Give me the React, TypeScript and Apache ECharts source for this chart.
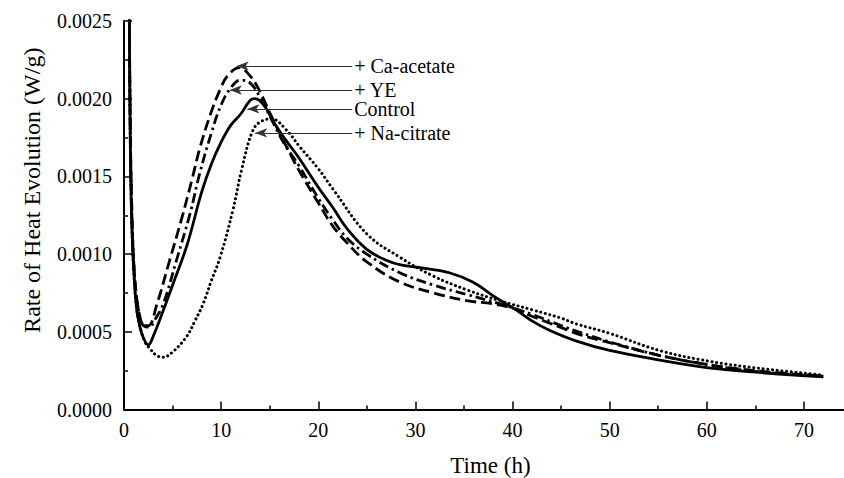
import React, { useEffect, useRef } from "react";
import * as echarts from "echarts";

// ---- data ----
const controlT = [0.45, 0.55, 0.65, 0.8, 1.0, 1.3, 1.65, 2.0, 2.5, 3.0, 4.0, 5.0, 6.5, 8.0, 9.0, 10.0, 11.0, 12.0, 13.0, 13.5, 14.5, 15.5, 16.7, 18.0, 20.0, 21.5, 23.0, 25.0, 27.0, 28.5, 30.8, 33.5, 35.9, 38.3, 40.4, 42.0, 43.8, 46.6, 50, 55, 60, 65, 72];
const controlV = [0.0032, 0.0025, 0.0017, 0.0012, 0.0009, 0.00065, 0.00053, 0.00046, 0.000415, 0.00047, 0.00063, 0.0008, 0.00106, 0.0014, 0.00158, 0.00172, 0.00183, 0.0019, 0.00199, 0.002, 0.00195, 0.00184, 0.00173, 0.00162, 0.00143, 0.0013, 0.00116, 0.00103, 0.00096, 0.00093, 0.00091, 0.00088, 0.00082, 0.00072, 0.00064, 0.00057, 0.00051, 0.00044, 0.00038, 0.00032, 0.00027, 0.00024, 0.00021];

const caT = [0.45, 0.55, 0.65, 0.8, 1.0, 1.3, 1.7, 2.0, 2.5, 3.4, 4.7, 5.9, 7.0, 7.8, 8.9, 9.9, 10.7, 11.9, 12.8, 13.8, 15.0, 16.9, 18.0, 20.0, 21.5, 23.0, 25.0, 28.4, 31.9, 35.3, 38.0, 40.1, 42.0, 44.9, 47.0, 50, 55, 60, 65, 72];
const caV = [0.0032, 0.0025, 0.0018, 0.0013, 0.00095, 0.00072, 0.00058, 0.00054, 0.00054, 0.00068, 0.00096, 0.00122, 0.00148, 0.00168, 0.0019, 0.00206, 0.00215, 0.0022, 0.00216, 0.00207, 0.00191, 0.00167, 0.00154, 0.00133, 0.00118, 0.00107, 0.00095, 0.00082, 0.00075, 0.0007, 0.00068, 0.00065, 0.0006, 0.00053, 0.00048, 0.00043, 0.00035, 0.00029, 0.00025, 0.000215];

const yeT = [0.45, 0.55, 0.65, 0.8, 1.0, 1.3, 1.7, 2.0, 2.6, 3.2, 4.05, 5.4, 6.8, 7.8, 9.0, 10.0, 11.0, 12.0, 13.0, 14.0, 15.0, 16.5, 18.0, 20.0, 21.5, 23.0, 25.0, 28.4, 31.9, 35.3, 38.7, 42.1, 45.0, 47.0, 50, 55, 60, 65, 72];
const yeV = [0.0032, 0.0025, 0.0018, 0.0013, 0.00095, 0.00072, 0.00058, 0.00054, 0.00053, 0.00058, 0.00068, 0.00096, 0.00126, 0.00152, 0.00178, 0.00196, 0.00207, 0.00212, 0.0021, 0.00201, 0.00189, 0.00171, 0.00157, 0.00136, 0.00122, 0.0011, 0.001, 0.00088, 0.0008, 0.00074, 0.00068, 0.00061, 0.00054, 0.000495, 0.000435, 0.00035, 0.00029, 0.000245, 0.000215];

const naT = [0.45, 0.55, 0.65, 0.8, 1.0, 1.3, 1.7, 2.2, 2.7, 3.3, 4.0, 5.0, 6.45, 7.3, 8.15, 9.0, 9.9, 11.2, 12.1, 13.3, 14.3, 15.2, 16.7, 18.1, 20.0, 21.5, 25.0, 28.4, 31.8, 35.3, 38.7, 42.1, 44.9, 46.6, 50, 55.1, 60.3, 65.4, 72];
const naV = [0.0032, 0.0025, 0.0017, 0.0012, 0.0009, 0.00065, 0.00052, 0.00043, 0.00039, 0.00035, 0.000336, 0.00037, 0.00047, 0.00057, 0.00068, 0.00083, 0.00098, 0.00128, 0.00154, 0.0018, 0.00186, 0.00187, 0.0018, 0.00169, 0.00155, 0.00142, 0.00113, 0.00098, 0.00086, 0.00077, 0.0007, 0.00064, 0.00059, 0.00055, 0.00049, 0.00038, 0.00031, 0.000265, 0.000222];

// annotation labels: name, arrow tip time, arrow tip value; all lines end at annoEndT
const annoNames = ["+ Ca-acetate", "+ YE", "Control", "+ Na-citrate"];
const annoTipT = [11.6, 10.9, 12.7, 13.5];
const annoTipV = [0.00221, 0.002056, 0.001934, 0.00178];
const annoEndT = 23.5;

const xTicks = [0, 10, 20, 30, 40, 50, 60, 70];

const FONT = "'Liberation Serif', 'Times New Roman', serif";

const zip = (t: number[], v: number[]) => t.map((x, i) => [x, v[i]]);

const mark = (i: number) => ({
  silent: true,
  symbol: ["arrow", "none"],
  symbolSize: [7, 12],
  lineStyle: { color: "#333", width: 1, type: "solid" },
  label: {
    show: true,
    position: "end",
    formatter: annoNames[i],
    color: "#000",
    fontSize: 20,
    fontFamily: FONT,
    distance: 2,
  },
  emphasis: { disabled: true },
  data: [[{ coord: [annoTipT[i], annoTipV[i]] }, { coord: [annoEndT, annoTipV[i]] }]],
});

export default function App() {
  const ref = useRef<HTMLDivElement>(null);
  useEffect(() => {
    document.body.style.margin = "0";
    const chart = echarts.init(ref.current!, undefined, { renderer: "svg" });
    const common = {
      type: "line",
      showSymbol: false,
      smooth: 0.4,
      clip: true,
      z: 3,
    };
    chart.setOption({
      animation: false,
      backgroundColor: "#fff",
      grid: {
        left: 124,
        top: 21,
        right: -57,
        bottom: 68.5,
        containLabel: false,
        outerBoundsMode: "none",
      },
      xAxis: {
        type: "value",
        min: 0,
        max: 80,
        interval: 10,
        name: "Time (h)",
        nameLocation: "middle",
        nameGap: 44,
        nameTextStyle: { color: "#000", fontSize: 23, fontFamily: FONT, padding: [0, 44, 0, 0] },
        axisLine: { show: true, onZero: false, lineStyle: { color: "#000", width: 2 } },
        axisTick: { show: true, inside: true, length: 8, lineStyle: { color: "#000", width: 1.5 } },
        minorTick: { show: true, splitNumber: 2, length: 4, lineStyle: { color: "#000", width: 1.5 } },
        axisLabel: {
          color: "#000",
          fontSize: 20,
          fontFamily: FONT,
          margin: 10,
          formatter: (v: number) => (xTicks.indexOf(v) >= 0 ? String(v) : ""),
        },
        splitLine: { show: false },
      },
      yAxis: {
        type: "value",
        min: 0,
        max: 0.0025,
        interval: 0.0005,
        name: "Rate of Heat Evolution (W/g)",
        nameLocation: "middle",
        nameGap: 80,
        nameTextStyle: { color: "#000", fontSize: 24, fontFamily: FONT, padding: [0, 0, 0, 50] },
        axisLine: { show: true, onZero: false, lineStyle: { color: "#000", width: 2 } },
        axisTick: { show: true, inside: true, length: 8, lineStyle: { color: "#000", width: 1.5 } },
        minorTick: { show: true, splitNumber: 2, length: 4, lineStyle: { color: "#000", width: 1.5 } },
        axisLabel: {
          color: "#000",
          fontSize: 20,
          fontFamily: FONT,
          margin: 12,
          formatter: (v: number) => v.toFixed(4),
        },
        splitLine: { show: false },
      },
      series: [
        {
          ...common,
          name: "Control",
          data: zip(controlT, controlV),
          lineStyle: { color: "#000", width: 2.8, type: "solid" },
          markLine: mark(2),
        },
        {
          ...common,
          name: "+ Ca-acetate",
          data: zip(caT, caV),
          lineStyle: { color: "#000", width: 2.8, type: [11, 5] },
          markLine: mark(0),
        },
        {
          ...common,
          name: "+ YE",
          data: zip(yeT, yeV),
          lineStyle: { color: "#000", width: 2.8, type: [10, 4, 2.5, 4] },
          markLine: mark(1),
        },
        {
          ...common,
          name: "+ Na-citrate",
          data: zip(naT, naV),
          lineStyle: { color: "#000", width: 3, type: [0.1, 4.6], cap: "round" },
          markLine: mark(3),
        },
      ],
    });
    return () => chart.dispose();
  }, []);
  return <div ref={ref} style={{ width: 844, height: 478 }} />;
}
